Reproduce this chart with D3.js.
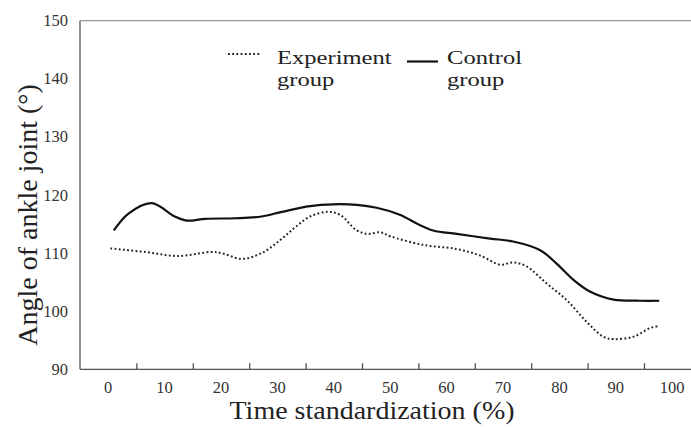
<!DOCTYPE html>
<html>
<head>
<meta charset="utf-8">
<script src="https://cdn.jsdelivr.net/npm/d3@7"></script>
<style>
  body { margin: 0; background: #fff; }
</style>
</head>
<body>
<div id="chart"></div>
<script>
// x categories shown on the axis
const xLabels = [0, 10, 20, 30, 40, 50, 60, 70, 80, 90, 100];
const yTicks = [90, 100, 110, 120, 130, 140, 150];

// control group (solid)
const controlX = [1, 3.6, 7.7, 11.8, 13.9, 17.2, 22.5, 27.2, 30.8, 35.8, 39.9, 44.1, 47.6, 51.7, 54.7, 57.6, 61.8, 67.7, 71.8, 76.6, 79.5, 82.5, 85.4, 89.6, 94.3, 97.7];
const controlY = [113.9, 116.8, 118.6, 116.3, 115.6, 115.9, 116.0, 116.3, 117.1, 118.1, 118.4, 118.3, 117.8, 116.6, 115.1, 113.9, 113.3, 112.5, 112.0, 110.5, 108.2, 105.4, 103.4, 102.0, 101.8, 101.8];

// experiment group (dotted)
const experimentX = [0.4, 6.5, 12.4, 18.3, 20.1, 23.7, 27.2, 30.2, 33.1, 35.8, 39.0, 41.1, 44.1, 46.1, 48.2, 50.0, 55.9, 61.8, 65.9, 69.5, 71.8, 74.2, 77.7, 81.3, 84.8, 87.8, 89.6, 93.1, 96.1, 97.8];
const experimentY = [110.8, 110.2, 109.5, 110.2, 110.0, 109.0, 110.0, 112.0, 114.4, 116.3, 117.1, 116.6, 113.9, 113.3, 113.6, 112.9, 111.4, 110.7, 109.6, 108.0, 108.4, 107.7, 104.8, 101.9, 98.2, 95.6, 95.2, 95.6, 97.1, 97.5];

const FONT = "'Times New Roman', 'Liberation Serif', 'DejaVu Serif', serif";

const W = 691, H = 427;
const svg = d3.select("#chart").append("svg")
    .attr("width", W)
    .attr("height", H);

const plot = { left: 80, top: 20.7, bottom: 369.3 };
const step = 56.4;

// each label sits in the middle of its category slot
const x = d3.scaleLinear()
    .domain([-5, 105])
    .range([plot.left, plot.left + 11 * step]);

const y = d3.scaleLinear()
    .domain([90, 150])
    .range([plot.bottom, plot.top]);

// plot area border (top + left), bottom axis
svg.append("line")
    .attr("x1", plot.left).attr("x2", W)
    .attr("y1", plot.top).attr("y2", plot.top)
    .attr("stroke", "#999").attr("stroke-width", 1.3);
svg.append("line")
    .attr("x1", plot.left).attr("x2", plot.left)
    .attr("y1", plot.top).attr("y2", plot.bottom)
    .attr("stroke", "#555").attr("stroke-width", 1.3);

const xAxis = svg.append("g")
    .attr("transform", `translate(0,${plot.bottom})`)
    .call(d3.axisBottom(x)
        .tickValues(d3.range(5, 100, 10))
        .tickSizeInner(-6)
        .tickSizeOuter(0)
        .tickFormat(""));
xAxis.select(".domain").attr("stroke", "#555").attr("stroke-width", 1.3)
    .attr("d", `M${plot.left},0H${W}`);
xAxis.selectAll(".tick line").attr("stroke", "#444").attr("stroke-width", 1.2);

// category labels
svg.append("g").selectAll("text")
    .data(xLabels)
    .join("text")
    .attr("x", d => x(d))
    .attr("y", 393)
    .attr("text-anchor", "middle")
    .style("font-family", FONT)
    .style("font-size", "16.5px")
    .attr("fill", "#333")
    .text(d => d);

svg.append("g").selectAll("text")
    .data(yTicks)
    .join("text")
    .attr("x", 68)
    .attr("y", d => y(d) + 5.5)
    .attr("text-anchor", "end")
    .style("font-family", FONT)
    .style("font-size", "16.5px")
    .attr("fill", "#333")
    .text(d => d);

// axis titles (the source picture is slightly stretched sideways)
svg.append("text")
    .attr("transform", "translate(372,419) scale(1.12,1)")
    .attr("text-anchor", "middle")
    .style("font-family", FONT)
    .style("font-size", "25px")
    .attr("fill", "#222")
    .text("Time standardization (%)");

svg.append("text")
    .attr("transform", "translate(37,215) rotate(-90)")
    .attr("text-anchor", "middle")
    .style("font-family", FONT)
    .style("font-size", "28px")
    .attr("fill", "#222")
    .text("Angle of ankle joint (°)");

// lines
const line = d3.line()
    .x(d => x(d[0]))
    .y(d => y(d[1]))
    .curve(d3.curveCatmullRom.alpha(0.5));

svg.append("path")
    .datum(d3.zip(experimentX, experimentY))
    .attr("d", line)
    .attr("fill", "none")
    .attr("stroke", "#222")
    .attr("stroke-width", 2)
    .attr("stroke-dasharray", "1.8,2.4");

svg.append("path")
    .datum(d3.zip(controlX, controlY))
    .attr("d", line)
    .attr("fill", "none")
    .attr("stroke", "#111")
    .attr("stroke-width", 2.2);

// legend
const legend = svg.append("g");
legend.append("line")
    .attr("x1", 228).attr("x2", 260)
    .attr("y1", 54).attr("y2", 54)
    .attr("stroke", "#222").attr("stroke-width", 2)
    .attr("stroke-dasharray", "1.8,2.4");
legend.append("line")
    .attr("x1", 407).attr("x2", 438)
    .attr("y1", 61.5).attr("y2", 61.5)
    .attr("stroke", "#111").attr("stroke-width", 2.2);

function legendLabel(x0, lines) {
    const t = legend.append("text")
        .attr("transform", `translate(${x0},64) scale(1.26,1)`)
        .style("font-family", FONT)
        .style("font-size", "19.5px")
        .attr("fill", "#222");
    lines.forEach((s, i) => {
        t.append("tspan").attr("x", 0).attr("dy", i ? 21.6 : 0).text(s);
    });
}
legendLabel(277, ["Experiment", "group"]);
legendLabel(447, ["Control", "group"]);
</script>
</body>
</html>
